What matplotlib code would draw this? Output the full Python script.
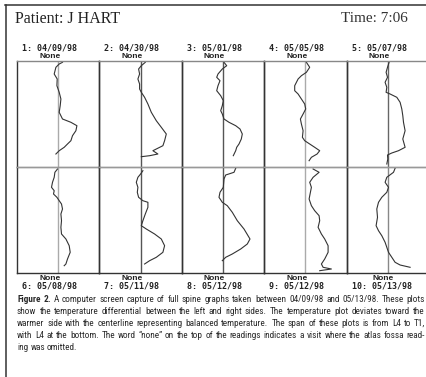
import matplotlib
matplotlib.use("Agg")
import matplotlib.pyplot as plt
from matplotlib import font_manager
from matplotlib.font_manager import FontProperties
from matplotlib.lines import Line2D

# ---------------- data ----------------
patient_label = "Patient: J HART"
time_label = "Time: 7:06"
visit_labels = ["1: 04/09/98", "2: 04/30/98", "3: 05/01/98", "4: 05/05/98", "5: 05/07/98",
                "6: 05/08/98", "7: 05/11/98", "8: 05/12/98", "9: 05/12/98", "10: 05/13/98"]
atlas_notes = ["None"] * 10

# depth from top of each panel (T1 at top, L4 at bottom), deviation from centreline
depth_p1 = [1.3, 3, 6.3, 13, 18, 24.7, 31.3, 38, 44.7, 51.3, 58, 61.3, 64.7, 69.7, 74.7, 79.7, 83, 86.3, 89.7, 93]
dev_p1 = [4.3, 1, -2.3, -4, -1, -1.3, 1, 2.7, 2, 1, 4.3, 12.7, 18.7, 17.7, 14.3, 12.7, 9.3, 6, 1, -2.3]

depth_p2 = [1.3, 4.7, 8, 13, 18, 23, 28, 31.3, 36.3, 43, 51.3, 59.7, 66.3, 73, 79.7, 84.7, 88, 89.7, 93, 94.7, 95.7]
dev_p2 = [4.7, 0.7, -2, -1, -2.7, -1, -1, 0.7, 4, 7.3, 10.7, 15.7, 20.7, 25.7, 24, 22.3, 15.7, 12.3, 17.3, 9, 0.7]

depth_p3 = [1.3, 4.7, 8, 13, 16.3, 19.7, 24.7, 29.7, 34.7, 39.7, 44.7, 49.7, 53, 58, 61.3, 64.7, 68, 73, 78, 83, 86.3, 89.7, 94.7]
dev_p3 = [1, 3.7, -0.7, -5, -6.3, -3, -5, -6.3, -2.3, 0.3, -0.7, -2.3, -0.7, 1, 6, 12.7, 17, 19.3, 18.3, 16, 13.7, 12.7, 10.3]

depth_p4 = [1.3, 6.3, 11.3, 14.7, 18, 24.7, 29.7, 33, 38, 43, 48, 53, 58, 63, 69.7, 76.3, 79.7, 83, 86.3, 89.7, 93, 96.3, 99.7]
dev_p4 = [1, 4.3, 1, -4, -7.3, -10.7, -10.7, -7.3, -4, -0.7, 0.3, -2.3, -5, -4, -2.3, -3, -0.7, 4.3, 9.3, 14.3, 11.7, 6, 3.7]

depth_p5 = [1.3, 6.3, 11.3, 16.3, 21.3, 26.3, 31.3, 33, 36.3, 41.3, 48, 54.7, 61.3, 69.7, 78, 86.3, 89.7, 92, 94, 98, 103]
dev_p5 = [1.3, -0.3, -1.7, -0.3, -2.7, -1, -1.7, 2.3, 9, 12.3, 14, 15, 15.7, 17.3, 15, 17.3, 10.7, 4, -0.3, 0, -1]

depth_p6 = [2, 5.3, 10.3, 15.3, 20.3, 23.7, 27, 30.3, 33.7, 37, 42, 47, 53.7, 60.3, 67, 72, 78.7, 85.3, 92, 97, 98.7]
dev_p6 = [-0.7, -3.3, -4, -5.7, -6.7, -4, -4.7, -1.3, 1, 3.3, 4.3, 2.7, 3.3, 2.7, 3.3, 7.7, 11, 12, 9.3, 7.7, 6]

depth_p7 = [3.7, 7, 10.3, 15.3, 20.3, 25.3, 30.3, 33.7, 35.3, 40.3, 47, 53.7, 58.7, 62, 67, 72, 78.7, 85.3, 90.3, 93.7, 97]
dev_p7 = [2.3, 0, -2.7, -4.3, -2.7, -3.3, -2, 2.3, 7.3, 7.3, 4.7, 2.3, 0.7, 5.7, 14, 20.7, 24, 22.3, 15.7, 9, 4]

depth_p8 = [1.3, 5.3, 8, 12, 20.3, 25.3, 30.3, 35.3, 38.7, 45.3, 53.7, 62, 72, 77, 82, 87, 90.3, 93.7]
dev_p8 = [12.7, 11, 2.7, 1, 0.3, -3, -4, -0.7, 4.3, 9.3, 14.3, 21, 27, 24.3, 17.7, 9.3, 2.7, -0.7]

depth_p9 = [2, 5.3, 10.3, 15.3, 20.3, 25.3, 32, 38.7, 43.7, 48.7, 53.7, 60.3, 67, 72, 78.7, 85.3, 92, 97, 100.3, 102, 103.7]
dev_p9 = [7.7, 13.7, 7.7, 4.3, 6, 5, 3.7, 6, 9.3, 13.7, 14.3, 12.7, 16, 19.3, 22.7, 22.7, 19.3, 16, 17.7, 26, 14.3]

depth_p10 = [1.3, 5.3, 10.3, 15.3, 20.3, 25.3, 30.3, 35.3, 42, 50.3, 58.7, 63.7, 68.7, 75.3, 80.3, 85.3, 90.3, 95.3, 98, 100.3]
dev_p10 = [7.3, 5.7, -1, -2.7, 0.7, -1, -6, -9.3, -11, -10.3, -11.7, -9.3, -6, -2.7, -1, 0.7, 4, 7.3, 12.3, 22.3]

caption_lines = [
    "A computer screen capture of full spine graphs taken between 04/09/98 and 05/13/98. These plots",
    "show the temperature differential between the left and right sides. The temperature plot deviates toward the",
    "warmer side with the centerline representing balanced temperature. The span of these plots is from L4 to T1,",
    "with L4 at the bottom. The word \u201cnone\u201d on the top of the readings indicates a visit where the atlas fossa read-",
    "ing was omitted.",
]

traces = [(depth_p1, dev_p1), (depth_p2, dev_p2), (depth_p3, dev_p3), (depth_p4, dev_p4), (depth_p5, dev_p5),
          (depth_p6, dev_p6), (depth_p7, dev_p7), (depth_p8, dev_p8), (depth_p9, dev_p9), (depth_p10, dev_p10)]

# ---------------- layout ----------------
W, H = 426, 377
fig = plt.figure(figsize=(W / 100, H / 100), dpi=100)
fig.patch.set_facecolor("white")


def fx(x):
    return x / W


def fy(y):
    return 1 - y / H


# outer frame
fig.add_artist(Line2D([fx(5), fx(426)], [fy(5), fy(5)], color="#333333", lw=1.1))
fig.add_artist(Line2D([fx(6), fx(6)], [fy(5), fy(377)], color="#333333", lw=1.1))

fig.text(fx(15), fy(19), patient_label, family="Liberation Serif", fontsize=11.5,
         va="center", ha="left", color="#222222")
fig.text(fx(408), fy(19), time_label, family="Liberation Serif", fontsize=11,
         va="center", ha="right", color="#333333")

x0, pw = 17, 82.4
rows = [(61, 167), (167, 273)]
center_colors = ["#aaaaaa", "#555555", "#555555", "#aaaaaa", "#666666",
                 "#aaaaaa", "#555555", "#555555", "#aaaaaa", "#888888"]

for i, (depth, dev) in enumerate(traces):
    r, c = divmod(i, 5)
    top, bot = rows[r]
    left = x0 + c * pw
    ax = fig.add_axes([fx(left), fy(bot), pw / W, (bot - top) / H])
    ax.set_xlim(-pw / 2, pw / 2)
    ax.set_ylim(bot - top, 0)
    ax.set_xticks([])
    ax.set_yticks([])
    ax.patch.set_alpha(0)
    for side in ("left", "right"):
        ax.spines[side].set_color("#333333")
        ax.spines[side].set_linewidth(1.0)
    if r == 0:
        ax.spines["top"].set_color("#888888")
        ax.spines["bottom"].set_color("#999999")
    else:
        ax.spines["top"].set_color("#999999")
        ax.spines["bottom"].set_color("#333333")
    ax.spines["top"].set_linewidth(1.0)
    ax.spines["bottom"].set_linewidth(1.0)
    ax.axvline(0, color=center_colors[i], lw=1.0, zorder=1)
    ax.plot(dev, depth, color="#333333", lw=0.8, zorder=2)

    lab = visit_labels[i]
    note_off = 26 if lab.startswith("10") else 22
    if r == 0:
        fig.text(fx(left + 5), fy(48), lab, family="DejaVu Sans Mono", weight="bold",
                 fontsize=6, va="center", ha="left", color="#222222")
        fig.text(fx(left + note_off), fy(56), atlas_notes[i], family="Liberation Sans",
                 weight="bold", fontsize=6, va="center", ha="left", color="#222222")
    else:
        fig.text(fx(left + note_off), fy(278), atlas_notes[i], family="Liberation Sans",
                 weight="bold", fontsize=6, va="center", ha="left", color="#222222")
        fig.text(fx(left + 5), fy(286), lab, family="DejaVu Sans Mono", weight="bold",
                 fontsize=6, va="center", ha="left", color="#222222")

# ---------------- caption (justified, condensed face if one is installed) ----------------
def find_face(keys, bold):
    for key in keys:
        for f in font_manager.fontManager.ttflist:
            fn = f.fname.replace("-", "").replace("_", "").lower()
            if key in fn and (("bold" in fn) == bold) and "italic" not in fn and "oblique" not in fn:
                return f.fname
    return None


cond_keys = ["liberationsansnarrow", "robotocondensed", "dejavusanscondensed", "opensanscondensed",
             "notosanscondensed", "latocondensed", "condensed", "narrow"]
reg_path = find_face(cond_keys, False)
bold_path = find_face(cond_keys, True)


def props(size, weight):
    if weight == "bold" and bold_path:
        return FontProperties(fname=bold_path, size=size)
    if weight != "bold" and reg_path:
        return FontProperties(fname=reg_path, size=size)
    return FontProperties(family="Liberation Sans", weight=weight, size=size)


renderer = fig.canvas.get_renderer()
cap_color = "#2a2a2a"
cap_left, cap_right = 17, 425
line_y = [299, 311, 323, 335, 347]


def measure(s, size, weight="normal"):
    t = fig.text(0, 0, s, fontproperties=props(size, weight))
    w = t.get_window_extent(renderer).width
    t.remove()
    return w


test = 8.0
full_lines = ["Figure 2. " + caption_lines[0]] + caption_lines[1:]
maxw = max(measure(s, test) for s in full_lines[:4])
cap_size = min(9.0, test * (cap_right - cap_left) / maxw * 0.975)
space_w = measure("a a", cap_size) - measure("aa", cap_size)

for li, text in enumerate(caption_lines):
    words = [(w, "normal") for w in text.split(" ")]
    if li == 0:
        words = [("Figure", "bold"), ("2.", "bold")] + words
    widths = [measure(w, cap_size, wt) for w, wt in words]
    if li < len(caption_lines) - 1 and len(words) > 1:
        gap = ((cap_right - cap_left) - sum(widths)) / (len(words) - 1)
    else:
        gap = space_w
    x = cap_left
    for (w, wt), wd in zip(words, widths):
        fig.text(fx(x), fy(line_y[li]), w, fontproperties=props(cap_size, wt),
                 va="center", ha="left", color=cap_color)
        x += wd + gap

fig.savefig("out.png", dpi=100, facecolor="white")
